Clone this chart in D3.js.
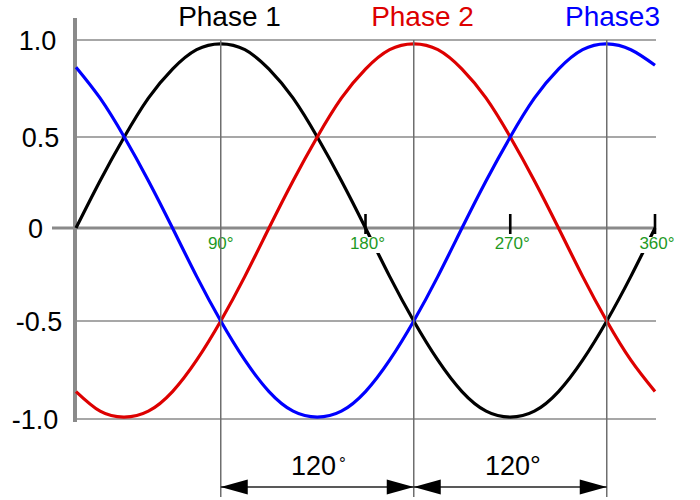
<!DOCTYPE html>
<html><head><meta charset="utf-8">
<script src="https://cdn.jsdelivr.net/npm/d3@7"></script>
<style>body{margin:0;background:#fff}svg{display:block;font-family:"Liberation Sans",Arial,sans-serif}</style>
</head><body><svg id="c" width="700" height="500"></svg>
<script>
// ---- data ----
const angles = [0,15,30,45,60,75,90,105,120,135,150,165,180,195,210,225,240,255,270,285,300,315,330,345,360];
const phase1 = [0,0.26,0.5,0.7,0.85,0.95,0.98,0.95,0.85,0.7,0.5,0.26,0,-0.26,-0.5,-0.7,-0.86,-0.96,-0.99,-0.96,-0.86,-0.7,-0.5,-0.26,0];
const phase2 = [-0.86,-0.96,-0.99,-0.96,-0.86,-0.7,-0.5,-0.26,0,0.26,0.5,0.7,0.85,0.95,0.98,0.95,0.85,0.7,0.5,0.26,0,-0.26,-0.5,-0.7,-0.86];
const phase3 = [0.86,0.7,0.5,0.26,0,-0.26,-0.5,-0.7,-0.86,-0.96,-0.99,-0.96,-0.86,-0.7,-0.5,-0.26,0,0.26,0.5,0.7,0.85,0.95,0.98,0.95,0.87];
const seriesNames = ["Phase 1","Phase 2","Phase3"];
const seriesColors = ["#000000","#dd0000","#0000ff"];
const yTicks = [1,0.5,0,-0.5,-1];
const yTickLabels = ["1.0","0.5","0","-0.5","-1.0"];
const xTickAngles = [90,180,270,360];
const xTickLabels = ["90°","180°","270°","360°"];
const markAngles = [90,210,330];      // vertical guide lines
const spanLabels = ["120", "120°"];

const svg = d3.select("#c");
const x = d3.scaleLinear().domain([0,360]).range([76,655]);
const y = d3.scaleLinear().domain([-1,-0.5,0,0.5,1]).range([419,321,228,137,40]);

// horizontal grid lines
svg.selectAll("line.grid").data(yTicks.filter(d=>d!==0)).join("line")
  .attr("x1",x(0)).attr("x2",656).attr("y1",d=>y(d)).attr("y2",d=>y(d))
  .attr("stroke","#8a8a8a").attr("stroke-width",1.6);
// zero axis
svg.append("line").attr("x1",52).attr("x2",x(360)).attr("y1",y(0)).attr("y2",y(0))
  .attr("stroke","#8a8a8a").attr("stroke-width",3);
// vertical axis
svg.append("line").attr("x1",x(0)-1).attr("x2",x(0)-1).attr("y1",18).attr("y2",422)
  .attr("stroke","#8a8a8a").attr("stroke-width",4);

// y labels
const yLabelX = [37.5,40.5,35.5,39,35];
svg.selectAll("text.yl").data(yTicks).join("text")
  .attr("x",(d,i)=>yLabelX[i]).attr("y",d=>y(d)).attr("dy","0.36em").attr("text-anchor","middle")
  .attr("font-size",27).attr("fill","#000").text((d,i)=>yTickLabels[i]);

// curves
const line = d3.line().x((d,i)=>x(angles[i])).y(d=>y(d)).curve(d3.curveNatural);
[phase1,phase2,phase3].forEach((s,i)=>{
  svg.append("path").attr("d",line(s)).attr("fill","none")
    .attr("stroke",seriesColors[i]).attr("stroke-width",3.2).attr("stroke-linecap","butt");
});

// tick labels with white background
const tl = svg.selectAll("g.tl").data(xTickAngles).join("g");
tl.each(function(d,i){
  const g = d3.select(this);
  const t = g.append("text").attr("x",x(d)+(i===0?0:2)).attr("y",249).attr("text-anchor","middle")
    .attr("font-size",17).attr("fill","#1f9a1f").text(xTickLabels[i]);
  if(i>0){
    const bb = t.node().getBBox();
    g.insert("rect","text").attr("x",bb.x).attr("y",bb.y+3).attr("width",bb.width).attr("height",bb.height-3).attr("fill","#fff");
  }
});
// ticks
svg.selectAll("line.tk").data(xTickAngles.slice(1)).join("line")
  .attr("x1",d=>x(d)).attr("x2",d=>x(d)).attr("y1",214).attr("y2",234)
  .attr("stroke","#000").attr("stroke-width",2.6);

// vertical guide lines
svg.selectAll("line.vg").data(markAngles).join("line")
  .attr("x1",d=>x(d)).attr("x2",d=>x(d)).attr("y1",40).attr("y2",497)
  .attr("stroke","#6e6e6e").attr("stroke-width",1.5);

// titles
const titleX = [229.5,422.5,612.5];
seriesNames.forEach((n,i)=>{
  svg.append("text").attr("x",titleX[i]).attr("y",26).attr("text-anchor","middle")
    .attr("font-size",28).attr("fill",seriesColors[i]).text(n);
});

// dimension arrows
const ay = 487, ah = 27, aw = 7.5;
for(let k=0;k<2;k++){
  const a = x(markAngles[k]), b = x(markAngles[k+1]);
  svg.append("line").attr("x1",a).attr("x2",b).attr("y1",ay).attr("y2",ay)
    .attr("stroke","#222").attr("stroke-width",1.5);
  svg.append("path").attr("d",`M${a},${ay}L${a+ah},${ay-aw}L${a+ah},${ay+aw}Z`).attr("fill","#000");
  svg.append("path").attr("d",`M${b},${ay}L${b-ah},${ay-aw}L${b-ah},${ay+aw}Z`).attr("fill","#000");
}
// span labels
const t1 = svg.append("text").attr("x",291).attr("y",475).attr("font-size",27).attr("fill","#000");
t1.append("tspan").text(spanLabels[0]);
t1.append("tspan").attr("dx",3).attr("dy",-6).attr("font-size",17).text("°");
svg.append("text").attr("x",485).attr("y",475).attr("font-size",27).attr("fill","#000").text(spanLabels[1]);
</script></body></html>
